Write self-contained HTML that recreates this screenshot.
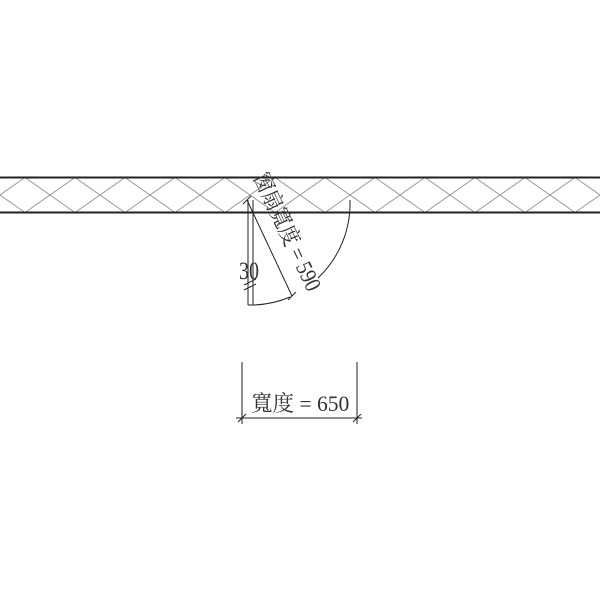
<!DOCTYPE html>
<html><head><meta charset="utf-8"><style>body{margin:0;background:#fff}svg{display:block}</style></head>
<body>
<svg width="600" height="600" viewBox="0 0 600 600" xmlns="http://www.w3.org/2000/svg">
<defs>
<pattern id="h" x="0" y="177.5" width="50" height="35" patternUnits="userSpaceOnUse">
<path d="M-25 0 L25 35 M25 0 L-25 35 M25 0 L75 35 M75 0 L25 35" stroke="#999" stroke-width="1" fill="none"/>
</pattern>
</defs>
<rect x="0" y="177.5" width="600" height="35" fill="url(#h)"/>
<line x1="0" y1="177.5" x2="600" y2="177.5" stroke="#222" stroke-width="2"/>
<line x1="0" y1="212.5" x2="600" y2="212.5" stroke="#222" stroke-width="2"/>
<g stroke="#222" stroke-width="1" fill="none">
<line x1="247" y1="200" x2="292" y2="296"/>
<line x1="243" y1="204" x2="251" y2="196"/>
<line x1="288" y1="300" x2="296" y2="292"/>
<line x1="248" y1="200" x2="248" y2="305"/>
<line x1="253" y1="200" x2="253" y2="305"/>
<line x1="244" y1="285" x2="256" y2="279"/>
<line x1="244" y1="290" x2="256" y2="284"/>
<path d="M248 305 A101 101 0 0 0 290 297"/>
<path d="M350 200 A103 103 0 0 1 318 278"/>
<line x1="242" y1="362" x2="242" y2="424"/>
<line x1="357" y1="362" x2="357" y2="424"/>
<line x1="236" y1="418" x2="362" y2="418"/>
<line x1="238" y1="422" x2="246" y2="414"/>
<line x1="353" y1="422" x2="361" y2="414"/>
</g>
<g font-family="'Liberation Serif','Noto Serif CJK SC',serif" fill="#333">
<text x="0" y="0" font-size="23" transform="translate(253,177) rotate(64.6) scale(0.85,1)">窗扇寬度 = 590</text>
<text x="0" y="0" font-size="25" transform="translate(239,279) scale(0.8,1)">30</text>
<text x="0" y="0" font-size="22" transform="translate(251,411) scale(0.98,1)">寬度 = 650</text>
</g>
</svg>
</body></html>
